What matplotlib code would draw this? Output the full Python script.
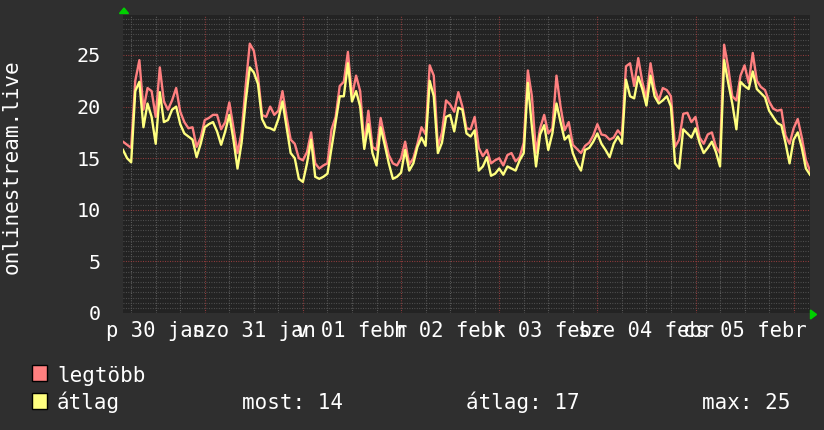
from matplotlib import pyplot as plt
from matplotlib.patches import Polygon, Rectangle

# hourly values, starting jan 30 04:00
legtobb = [16.6, 16.3, 16.0, 22.5, 24.5, 19.7, 21.8, 21.5, 19.0, 23.8,
           20.5, 19.7, 20.6, 21.8, 19.5, 18.5, 17.9, 18.0, 16.1, 17.0,
           18.7, 18.9, 19.2, 19.2, 17.8, 18.5, 20.4, 18.0, 15.5, 17.5,
           22.0, 26.1, 25.4, 23.0, 19.2, 19.0, 20.0, 19.2, 19.6, 21.5,
           19.0, 16.8, 16.4, 15.0, 14.8, 15.6, 17.5, 14.5, 14.0, 14.3,
           14.5, 17.8, 19.0, 22.0, 22.4, 25.3, 21.0, 23.0, 21.5, 16.3,
           19.6, 16.1, 15.8, 18.9, 17.0, 15.3, 14.5, 14.3, 15.0, 16.6,
           14.4, 15.0, 16.4, 18.0, 17.3, 24.0, 23.0, 16.1, 17.5, 20.6,
           20.2, 19.5, 21.4, 20.0, 17.9, 17.8, 19.0, 16.0, 15.2, 15.8,
           14.5, 14.8, 15.0, 14.3, 15.3, 15.5, 14.7, 15.1, 16.5, 23.5,
           21.0, 15.5, 17.9, 19.2, 17.4, 17.9, 23.0, 20.0, 17.7, 18.5,
           16.3, 15.9, 15.5, 16.2, 16.5, 17.2, 18.3, 17.3, 17.2, 16.8,
           17.0, 17.7, 17.2, 23.9, 24.2, 22.0, 24.7, 22.4, 20.8, 24.2,
           21.8, 20.6, 21.8, 21.6, 21.0, 16.1, 16.8, 19.3, 19.4, 18.5,
           19.0, 17.0, 16.4, 17.3, 17.5, 16.1, 15.5, 26.0, 23.8, 21.0,
           20.6, 23.0, 24.0, 22.3, 25.2, 22.5, 21.9, 21.6, 20.5, 19.8,
           19.6, 19.7, 17.2, 16.4, 17.9, 18.8, 17.0, 14.8, 13.8]
atlag = [15.8, 15.0, 14.6, 21.5, 22.4, 18.0, 20.3, 19.0, 16.4, 21.4,
         18.5, 18.7, 19.7, 20.0, 18.3, 17.4, 17.1, 16.8, 15.1, 16.4,
         18.0, 18.3, 18.5, 17.6, 16.3, 17.6, 19.2, 16.8, 14.0, 16.5,
         20.5, 23.8, 23.3, 22.2, 18.8, 18.0, 17.9, 17.7, 18.8, 20.5,
         18.0, 15.5, 15.0, 13.0, 12.7, 14.5, 16.8, 13.2, 13.0, 13.2,
         13.5, 16.0, 18.5, 21.0, 21.0, 24.2, 20.5, 21.5, 20.0, 15.9,
         18.3, 15.5, 14.3, 18.0, 16.3, 14.5, 13.0, 13.2, 13.6, 15.8,
         13.8, 14.5, 16.1, 17.0, 16.2, 22.5, 21.0, 15.5, 16.5, 19.0,
         19.2, 17.6, 19.9, 19.7, 17.4, 17.1, 17.7, 13.8, 14.2, 15.1,
         13.3, 13.5, 14.0, 13.4, 14.2, 14.0, 13.8, 14.8, 15.5, 22.3,
         18.0, 14.2, 17.3, 18.2, 15.8, 17.4, 20.3, 18.5, 16.8, 17.2,
         15.5, 14.5, 13.8, 15.8, 16.0, 16.6, 17.4, 16.4, 15.8, 15.1,
         16.4, 17.1, 16.4, 22.6, 21.0, 20.8, 22.9, 21.7, 20.1, 23.0,
         21.0, 20.3, 20.6, 21.0, 20.0, 14.5, 14.0, 17.8, 17.4, 17.0,
         17.9, 16.5, 15.5, 16.0, 16.6, 15.6, 14.2, 24.5, 22.3, 20.3,
         17.8, 22.4, 22.0, 21.7, 23.4, 21.7, 21.3, 20.9, 19.6, 19.0,
         18.4, 18.2, 16.5, 14.5, 16.8, 17.5, 16.0, 14.0, 13.4]
hours = list(range(len(atlag)))

day_labels = ["p 30 jan", "szo 31 jan", "v 01 febr", "h 02 febr",
              "k 03 febr", "sze 04 febr", "cs 05 febr"]
day_noon = [8, 32, 56, 80, 104, 128, 152]
midnights = [20, 44, 68, 92, 116, 140, 164]

W, H = 824, 430
bg = "#2f2f2f"
fig = plt.figure(figsize=(W / 100, H / 100), dpi=100, facecolor=bg)
ax = fig.add_axes([123 / W, (H - 313) / H, 687 / W, 298 / H])
ax.set_facecolor("#232323")
ax.set_xlim(0, 168)
ax.set_ylim(0, 298 / 10.32)
for s in ax.spines.values():
    s.set_visible(False)

dots = (0, (0.8, 1.4))
# minor grid
for h in range(2, 169, 6):
    if h not in midnights:
        ax.axvline(h, color="#666666", lw=0.8, ls=dots, zorder=1)
v = 0.5
while v < 29:
    if v % 5 != 0:
        ax.axhline(v, color="#555555", lw=0.8, ls=dots, zorder=1)
    v += 0.5
# major grid
for h in midnights:
    ax.axvline(h, color="#a04040", lw=0.8, ls=dots, zorder=1)
for v in range(5, 30, 5):
    ax.axhline(v, color="#a04040", lw=0.8, ls=dots, zorder=1)

ax.plot(hours, legtobb, color="#ff8080", lw=1.7, zorder=3)
ax.plot(hours, atlag, color="#ffff80", lw=1.7, zorder=4)

font = "DejaVu Sans Mono"
ax.set_yticks(range(0, 30, 5))
ax.set_yticklabels([str(v) for v in range(0, 30, 5)], fontsize=14.5, family=font, color="white")
ax.set_xticks(day_noon)
ax.set_xticklabels(day_labels, fontsize=14.8, family=font, color="white")
ax.tick_params(axis="both", length=0)
ax.tick_params(axis="y", pad=16)
ax.tick_params(axis="x", pad=6)

fig.text(12 / W, 1 - 167 / H, "onlinestream.live", rotation=90, ha="center", va="center",
         fontsize=15, family=font, color="white")

# arrows
fig.patches.append(Polygon([[119.5, H - 13.5], [128.5, H - 13.5], [124, H - 8]],
                           closed=True, transform=None, color="#00d000"))
fig.patches.append(Polygon([[810.5, H - 310], [810.5, H - 319], [816.5, H - 314.5]],
                           closed=True, transform=None, color="#00d000"))

# legend
for y0, c in [(365, "#ff8080"), (393, "#ffff80")]:
    fig.patches.append(Rectangle((32, H - y0 - 16), 15, 16, transform=None,
                                 facecolor=c, edgecolor="black", lw=1))
fig.text(57 / W, 1 - 382 / H, "legtöbb", fontsize=15, family=font, color="white", va="baseline")
fig.text(57 / W, 1 - 409 / H, "átlag", fontsize=15, family=font, color="white", va="baseline")
fig.text(242 / W, 1 - 409 / H, "most: 14", fontsize=15, family=font, color="white", va="baseline")
fig.text(466 / W, 1 - 409 / H, "átlag: 17", fontsize=15, family=font, color="white", va="baseline")
fig.text(702 / W, 1 - 409 / H, "max: 25", fontsize=15, family=font, color="white", va="baseline")

fig.savefig("out.png", dpi=100, facecolor=bg)
